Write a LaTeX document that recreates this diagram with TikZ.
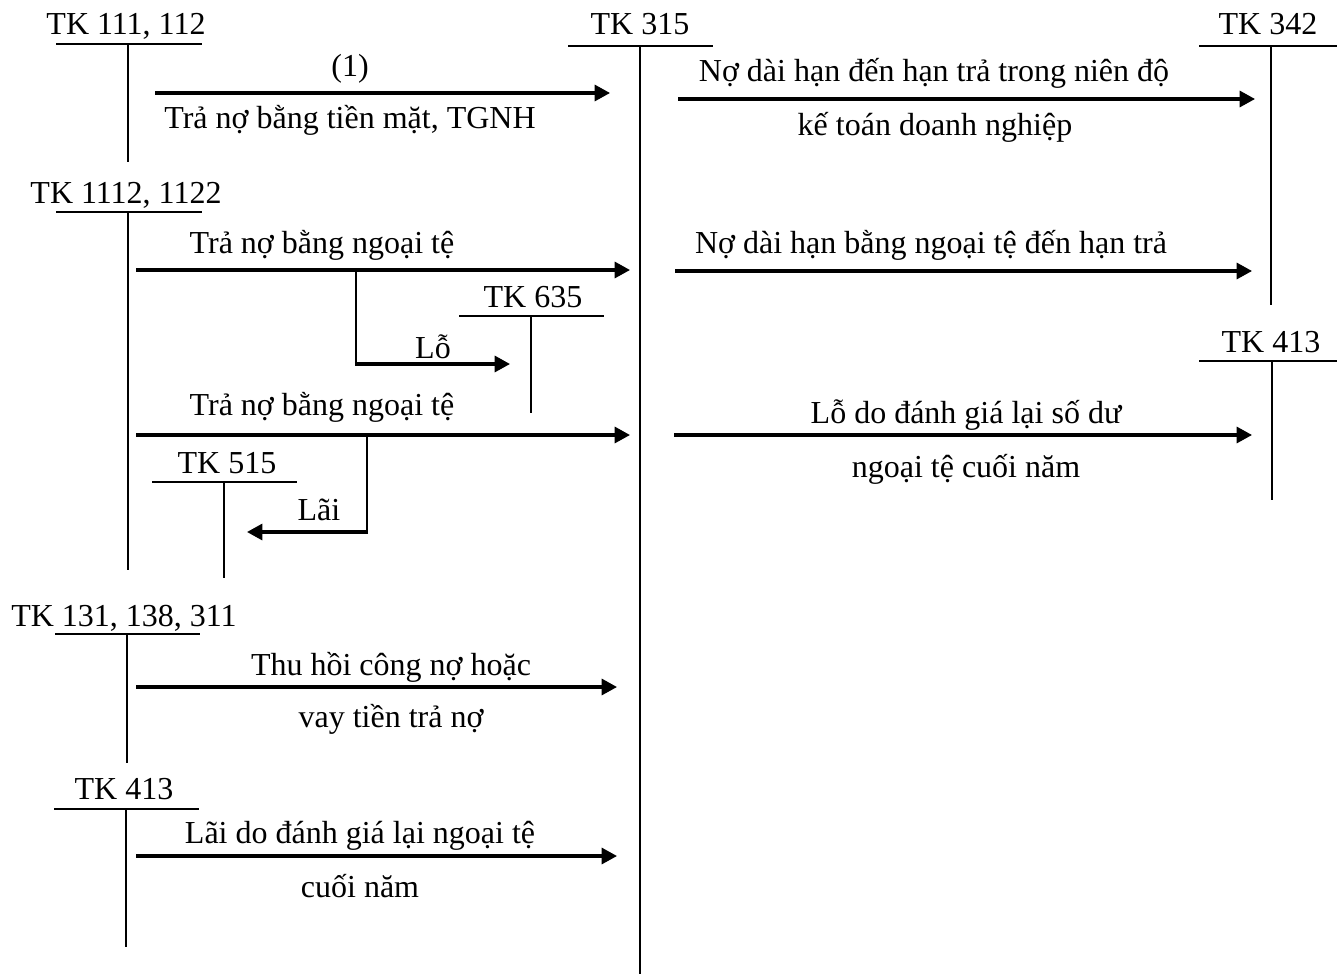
\documentclass[tikz,border=0pt]{standalone}
\usepackage{fontspec}
\setmainfont{Liberation Serif}
\usetikzlibrary{arrows.meta}
\begin{document}
\begin{tikzpicture}[x=0.75pt,y=-0.75pt,
  lbl/.style={anchor=base,inner sep=0pt,font=\fontsize{24}{28}\selectfont},
  tline/.style={line width=1.4pt},
  drop/.style={line width=1.6pt},
  flow/.style={line width=2.3pt,-{Triangle[length=11.5pt,width=12pt]}},
  ]
\useasboundingbox (0,0) rectangle (1337,974);

% ---------- T-accounts ----------
% TK 111, 112
\node[lbl] (t111) at (126,35) {TK 111, 112};
\coordinate (t111l) at (56,44); \coordinate (t111r) at (202,44);
\coordinate (t111t) at (128,44); \coordinate (t111b) at (128,162);
\draw[tline] (t111l) -- (t111r); \draw[tline] (t111t) -- (t111b);

% TK 315
\node[lbl] (t315) at (640,35) {TK 315};
\coordinate (t315l) at (568,46); \coordinate (t315r) at (713,46);
\coordinate (t315t) at (640,46); \coordinate (t315b) at (640,974);
\draw[tline] (t315l) -- (t315r); \draw[tline] (t315t) -- (t315b);

% TK 342
\node[lbl] (t342) at (1268,35) {TK 342};
\coordinate (t342l) at (1199,46); \coordinate (t342r) at (1337,46);
\coordinate (t342t) at (1271,46); \coordinate (t342b) at (1271,305);
\draw[tline] (t342l) -- (t342r); \draw[tline] (t342t) -- (t342b);

% TK 1112, 1122
\node[lbl] (t1112) at (126,203) {TK 1112, 1122};
\coordinate (t1112l) at (56,212); \coordinate (t1112r) at (202,212);
\coordinate (t1112t) at (128,212); \coordinate (t1112b) at (128,570);
\draw[tline] (t1112l) -- (t1112r); \draw[tline] (t1112t) -- (t1112b);

% TK 635
\node[lbl] (t635) at (533,307) {TK 635};
\coordinate (t635l) at (459,316); \coordinate (t635r) at (604,316);
\coordinate (t635t) at (531,316); \coordinate (t635b) at (531,413);
\draw[tline] (t635l) -- (t635r); \draw[tline] (t635t) -- (t635b);

% TK 413 (right)
\node[lbl] (t413r) at (1271,352) {TK 413};
\coordinate (t413rl) at (1199,361); \coordinate (t413rr) at (1337,361);
\coordinate (t413rt) at (1272,361); \coordinate (t413rb) at (1272,500);
\draw[tline] (t413rl) -- (t413rr); \draw[tline] (t413rt) -- (t413rb);

% TK 515
\node[lbl] (t515) at (227,473) {TK 515};
\coordinate (t515l) at (152,482); \coordinate (t515r) at (297,482);
\coordinate (t515t) at (224,482); \coordinate (t515b) at (224,578);
\draw[tline] (t515l) -- (t515r); \draw[tline] (t515t) -- (t515b);

% TK 131, 138, 311
\node[lbl] (t131) at (124,626) {TK 131, 138, 311};
\coordinate (t131l) at (55,634); \coordinate (t131r) at (200,634);
\coordinate (t131t) at (127,634); \coordinate (t131b) at (127,763);
\draw[tline] (t131l) -- (t131r); \draw[tline] (t131t) -- (t131b);

% TK 413 (left)
\node[lbl] (t413l) at (124,799) {TK 413};
\coordinate (t413ll) at (54,809); \coordinate (t413lr) at (199,809);
\coordinate (t413lt) at (126,809); \coordinate (t413lb) at (126,947);
\draw[tline] (t413ll) -- (t413lr); \draw[tline] (t413lt) -- (t413lb);

% ---------- Flows ----------
% (1)
\coordinate (f1s) at (155,93); \coordinate (f1e) at (610,93);
\draw[flow] (f1s) -- (f1e);
\node[lbl] (f1a) at (350,76) {(1)};
\node[lbl] (f1b) at (350,128) {Trả nợ bằng tiền mặt, TGNH};

% 315 -> 342 (a)
\coordinate (f2s) at (678,99); \coordinate (f2e) at (1255,99);
\draw[flow] (f2s) -- (f2e);
\node[lbl] (f2a) at (934,82) {Nợ dài hạn đến hạn trả trong niên độ};
\node[lbl] (f2b) at (935,135) {kế toán doanh nghiệp};

% 1112 -> 315 (a)
\coordinate (f3s) at (136,270); \coordinate (f3e) at (630,270);
\draw[flow] (f3s) -- (f3e);
\node[lbl] (f3a) at (322,253) {Trả nợ bằng ngoại tệ};
\coordinate (b1s) at (356,270); \coordinate (b1c) at (356,364); \coordinate (b1e) at (510,364);
\draw[drop] (b1s) -- ([yshift=-0.9pt]b1c);
\draw[flow] ([xshift=-0.8pt]b1c) -- (b1e);
\node[lbl] (b1a) at (433,358) {Lỗ};

% 315 -> 342 (b)
\coordinate (f4s) at (675,271); \coordinate (f4e) at (1252,271);
\draw[flow] (f4s) -- (f4e);
\node[lbl] (f4a) at (931,253) {Nợ dài hạn bằng ngoại tệ đến hạn trả};

% 1112 -> 315 (b)
\coordinate (f5s) at (136,435); \coordinate (f5e) at (630,435);
\draw[flow] (f5s) -- (f5e);
\node[lbl] (f5a) at (322,415) {Trả nợ bằng ngoại tệ};
\coordinate (b2s) at (367,435); \coordinate (b2c) at (367,532); \coordinate (b2e) at (247,532);
\draw[drop] (b2s) -- ([yshift=-0.9pt]b2c);
\draw[flow] ([xshift=0.8pt]b2c) -- (b2e);
\node[lbl] (b2a) at (319,520) {Lãi};

% 315 -> 413 right
\coordinate (f6s) at (674,435); \coordinate (f6e) at (1252,435);
\draw[flow] (f6s) -- (f6e);
\node[lbl] (f6a) at (966,423) {Lỗ do đánh giá lại số dư};
\node[lbl] (f6b) at (966,477) {ngoại tệ cuối năm};

% 131 -> 315
\coordinate (f7s) at (136,687); \coordinate (f7e) at (617,687);
\draw[flow] (f7s) -- (f7e);
\node[lbl] (f7a) at (391,675) {Thu hồi công nợ hoặc};
\node[lbl] (f7b) at (391,727) {vay tiền trả nợ};

% 413 left -> 315
\coordinate (f8s) at (136,856); \coordinate (f8e) at (617,856);
\draw[flow] (f8s) -- (f8e);
\node[lbl] (f8a) at (360,843) {Lãi do đánh giá lại ngoại tệ};
\node[lbl] (f8b) at (360,897) {cuối năm};
\end{tikzpicture}
\end{document}
